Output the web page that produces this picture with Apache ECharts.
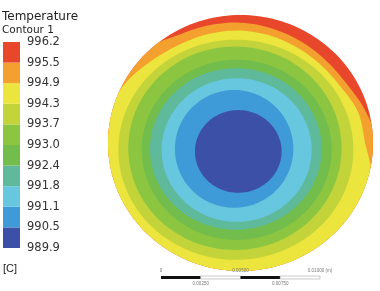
<!DOCTYPE html>
<html>
<head>
<meta charset="utf-8">
<script src="https://cdn.jsdelivr.net/npm/echarts@6/dist/echarts.min.js"></script>
<style>
html, body { margin: 0; padding: 0; background: #fff; }
#main { width: 380px; height: 291px; }
</style>
</head>
<body>
<div id="main"></div>
<script>
// contour levels in C, low to high
var levels = [989.9, 990.5, 991.1, 991.8, 992.4, 993.0, 993.7, 994.3, 994.9, 995.5, 996.2];
// colour of the band between levels[i] and levels[i+1]
var bandColors = ['#3b50a6', '#3f9bd8', '#67c7de', '#5fb99b', '#72bd4c', '#8cc641', '#c3d43a', '#ece53d', '#f4a02f', '#e8472b'];

// outer contours are irregular: radius (disk radius = 1) every 15 deg, counter-clockwise from the right
var contourAngles = [0, 15, 30, 45, 60, 75, 90, 105, 120, 135, 150, 165, 180, 195, 210, 225, 240, 255, 270, 285, 300, 315, 330, 345];
var r995_5 = [1.03, 0.975, 0.925, 0.912, 0.915, 0.925, 0.94, 0.95, 0.968, 1.03, 1.03, 1.03, 1.03, 1.03, 1.03, 1.03, 1.03, 1.03, 1.03, 1.03, 1.03, 1.03, 1.03, 1.03];
var r994_9 = [0.94, 0.92, 0.875, 0.86, 0.86, 0.868, 0.878, 0.885, 0.895, 0.925, 0.98, 1.03, 1.03, 1.03, 1.03, 1.03, 1.03, 1.03, 1.03, 1.03, 1.03, 1.03, 1.03, 1.02];

// inner contours are close to ellipses: centre and semi-axes in disk units
var ellLevel = [994.3, 993.7, 993.0, 992.4, 991.8, 991.1, 990.5];
var ellCx = [-0.035, -0.042, -0.029, -0.035, -0.029, -0.048, -0.017];
var ellCy = [-0.053, -0.041, -0.053, -0.047, -0.055, -0.046, -0.066];
var ellRx = [0.887, 0.805, 0.717, 0.648, 0.566, 0.447, 0.327];
var ellRy = [0.86, 0.795, 0.704, 0.631, 0.561, 0.46, 0.323];

// scale bar (m)
var scaleStops = [0, 0.0025, 0.005, 0.0075, 0.01];
var scaleTop = ['0', '', '0.00500', '', '0.01000 (m)'];
var scaleBottom = ['', '0.00250', '', '0.00750', ''];

var font = 'DejaVu Sans, Liberation Sans, sans-serif';

function bandColorBelow(level) {
    var i = levels.indexOf(level);
    return bandColors[i - 1];
}

// periodic catmull-rom on the radius samples
function radiusAt(arr, deg) {
    var n = arr.length;
    var s = deg / 15;
    var i = Math.floor(s), t = s - i;
    var p0 = arr[(i - 1 + n) % n], p1 = arr[i % n], p2 = arr[(i + 1) % n], p3 = arr[(i + 2) % n];
    return 0.5 * (2 * p1 + (-p0 + p2) * t + (2 * p0 - 5 * p1 + 4 * p2 - p3) * t * t + (-p0 + 3 * p1 - 3 * p2 + p3) * t * t * t);
}

function renderDisk(params, api) {
    var children = [];
    var k, pts, a;
    // whole disk: above 995.5
    pts = [];
    for (k = 0; k < 360; k += 2) {
        a = k * Math.PI / 180;
        pts.push(api.coord([Math.cos(a), Math.sin(a)]));
    }
    children.push({ type: 'polygon', shape: { points: pts }, style: { fill: bandColors[9] } });

    [[r995_5, 995.5], [r994_9, 994.9]].forEach(function (c) {
        var p = [];
        for (var d = 0; d < 360; d += 2) {
            var r = Math.min(radiusAt(c[0], d), 1);
            var ang = d * Math.PI / 180;
            p.push(api.coord([r * Math.cos(ang), r * Math.sin(ang)]));
        }
        children.push({ type: 'polygon', shape: { points: p }, style: { fill: bandColorBelow(c[1]) } });
    });

    for (var e = 0; e < ellLevel.length; e++) {
        var p2 = [];
        for (k = 0; k < 360; k += 3) {
            a = k * Math.PI / 180;
            p2.push(api.coord([ellCx[e] + ellRx[e] * Math.cos(a), ellCy[e] + ellRy[e] * Math.sin(a)]));
        }
        children.push({ type: 'polygon', shape: { points: p2 }, style: { fill: bandColorBelow(ellLevel[e]) } });
    }
    return { type: 'group', children: children };
}

function renderLegend(params, api) {
    var i = api.value(0);
    var p0 = api.coord([0, i]);
    var p1 = api.coord([1, i + 1]);
    return {
        type: 'rect',
        shape: { x: p0[0], y: p1[1], width: p1[0] - p0[0], height: p0[1] - p1[1] },
        style: { fill: bandColors[i] }
    };
}

function renderScale(params, api) {
    var i = api.value(0);
    var p = api.coord([scaleStops[i], 0]);
    var children = [];
    if (i < scaleStops.length - 1) {
        var q = api.coord([scaleStops[i + 1], 1]);
        children.push({
            type: 'rect',
            shape: { x: p[0], y: q[1], width: q[0] - p[0], height: p[1] - q[1] },
            style: i % 2 === 0 ? { fill: '#111' } : { fill: '#fff', stroke: '#aaa', lineWidth: 0.6 }
        });
    }
    var top = api.coord([scaleStops[i], 1]);
    if (scaleTop[i]) {
        children.push({ type: 'text', x: top[0], y: top[1] - 3, style: { text: scaleTop[i], fontSize: 4.5, fill: '#777', align: 'center', verticalAlign: 'bottom', font: '4.5px ' + font } });
    }
    if (scaleBottom[i]) {
        children.push({ type: 'text', x: p[0], y: p[1] + 2, style: { text: scaleBottom[i], fontSize: 4.5, fill: '#777', align: 'center', verticalAlign: 'top', font: '4.5px ' + font } });
    }
    return { type: 'group', children: children };
}

var chart = echarts.init(document.getElementById('main'), null, { renderer: 'canvas' });

var legendIdx = [];
for (var i = 0; i < bandColors.length; i++) legendIdx.push([i]);
var scaleIdx = [];
for (var j = 0; j < scaleStops.length; j++) scaleIdx.push([j]);

var option = {
    animation: false,
    backgroundColor: '#fff',
    title: {
        text: 'Temperature',
        subtext: 'Contour 1',
        left: 2,
        top: 11,
        padding: 0,
        itemGap: 2,
        textStyle: { fontSize: 12, fontWeight: 'normal', color: '#222', fontFamily: font },
        subtextStyle: { fontSize: 10.5, color: '#222', fontFamily: font }
    },
    graphic: [{
        type: 'text', left: 3, top: 263,
        style: { text: '[C]', fontSize: 11, fill: '#222', font: '11px ' + font }
    }],
    grid: [
        { left: 108, top: 15, width: 265, height: 256 },
        { left: 3, top: 42, width: 17, height: 206 },
        { left: 161, top: 276, width: 159, height: 3 }
    ],
    xAxis: [
        { gridIndex: 0, type: 'value', min: -1, max: 1, show: false },
        { gridIndex: 1, type: 'value', min: 0, max: 1, show: false },
        { gridIndex: 2, type: 'value', min: 0, max: 0.01, show: false }
    ],
    yAxis: [
        { gridIndex: 0, type: 'value', min: -1, max: 1, show: false },
        {
            gridIndex: 1, type: 'value', min: 0, max: 10, interval: 1, position: 'right',
            axisLine: { show: false }, axisTick: { show: false }, splitLine: { show: false },
            axisLabel: {
                margin: 7, fontSize: 11.5, color: '#333', fontFamily: font,
                formatter: function (v) { return levels[v].toFixed(1); }
            }
        },
        { gridIndex: 2, type: 'value', min: 0, max: 1, show: false }
    ],
    series: [
        { type: 'custom', xAxisIndex: 0, yAxisIndex: 0, data: [[0, 0]], renderItem: renderDisk, silent: true },
        { type: 'custom', xAxisIndex: 1, yAxisIndex: 1, data: legendIdx, renderItem: renderLegend, silent: true },
        { type: 'custom', xAxisIndex: 2, yAxisIndex: 2, data: scaleIdx, renderItem: renderScale, silent: true }
    ]
};

chart.setOption(option);
</script>
</body>
</html>
